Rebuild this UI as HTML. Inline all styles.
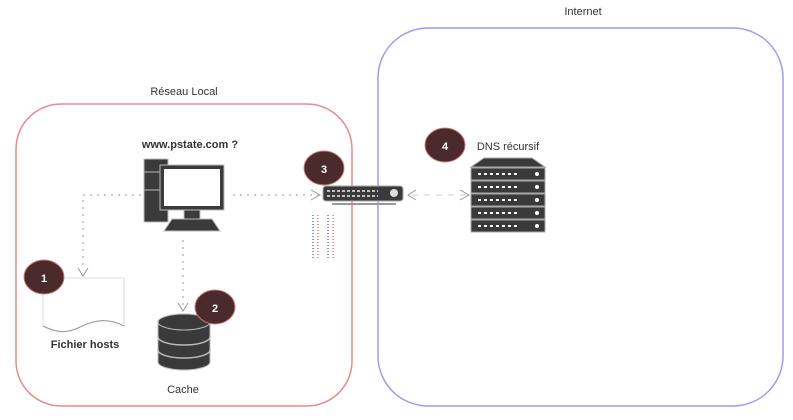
<!DOCTYPE html>
<html><head><meta charset="utf-8"><style>
body{margin:0;background:#fff;width:793px;height:415px;overflow:hidden}
text{font-family:"Liberation Sans",sans-serif;font-size:11px;fill:#333}
</style></head><body>
<svg width="793" height="415" xmlns="http://www.w3.org/2000/svg">
<rect x="378" y="28" width="405" height="378" rx="50" fill="none" stroke="#9c9cf0" stroke-width="1.5"/>
<rect x="16" y="104" width="336" height="302" rx="45" fill="none" stroke="#e88a8a" stroke-width="1.5"/>
<text x="583" y="15" text-anchor="middle">Internet</text>
<text x="184" y="95" text-anchor="middle">Réseau Local</text>
<text x="190" y="148" text-anchor="middle" font-weight="bold">www.pstate.com ?</text>
<text x="85" y="348" text-anchor="middle" font-weight="bold">Fichier hosts</text>
<text x="183" y="393" text-anchor="middle">Cache</text>
<text x="508" y="150" text-anchor="middle">DNS récursif</text>
<g stroke="#999" stroke-width="1" stroke-dasharray="2,5" fill="none">
<path d="M148 195 H83 V270"/>
<path d="M233 195 H318"/>
<path d="M183 240 V305"/>
<path d="M412 195 H468" stroke-dasharray="6,6" stroke="#ccc"/>
</g>
<g fill="none" stroke="#999">
<path d="M78 268 L83 276 L88 268"/>
<path d="M178 303 L183 311 L188 303"/>
<path d="M311 190 L320 195 L311 200"/>
<path d="M416 190 L408 195 L416 200"/>
<path d="M460 190 L469 195 L460 200"/>
</g>
<rect x="144" y="159" width="24" height="63" fill="#3a3a3a" stroke="#bbb"/>
<line x1="144" y1="172" x2="168" y2="172" stroke="#bbb"/>
<line x1="144" y1="190" x2="168" y2="190" stroke="#bbb"/>
<rect x="160" y="165" width="64" height="45" fill="#3a3a3a" stroke="#bbb"/>
<rect x="164" y="169" width="56" height="37" fill="#fff"/>
<rect x="184" y="210" width="16" height="9" fill="#3a3a3a" stroke="#bbb"/>
<path d="M172 219 H212 L220 231 H164 Z" fill="#3a3a3a" stroke="#bbb"/>
<path d="M43 278 H124 V326 C105 316 90 322 78 328 C65 334 55 332 43 326 Z" fill="#fff" stroke="#ddd"/>
<path d="M43 326 C55 332 65 334 78 328 C90 322 105 316 124 326" fill="none" stroke="#999"/>
<path d="M158 322 V362 A26 8 0 0 0 210 362 V322" fill="#3a3a3a" stroke="#bbb"/>
<ellipse cx="184" cy="322" rx="26" ry="8" fill="#3a3a3a" stroke="#bbb"/>
<path d="M158 337 A26 8 0 0 0 210 337 M158 350 A26 8 0 0 0 210 350" fill="none" stroke="#bbb" stroke-width="1.5"/>
<rect x="323" y="186" width="80" height="15" rx="3" fill="#3a3a3a" stroke="#aaa"/>
<line x1="332" y1="204" x2="396" y2="204" stroke="#999" stroke-width="2"/>
<g stroke="#eee" stroke-width="1.5" stroke-dasharray="3,2"><line x1="327" y1="191" x2="378" y2="191"/><line x1="327" y1="196" x2="378" y2="196"/></g>
<circle cx="394" cy="193" r="4" fill="#ddd"/>
<g stroke="#2233aa" stroke-width="1" stroke-dasharray="1,2"><line x1="313" y1="215" x2="313" y2="258"/><line x1="328" y1="215" x2="328" y2="258"/></g>
<g stroke="#c33" stroke-width="1" stroke-dasharray="1,2"><line x1="318" y1="215" x2="318" y2="258"/><line x1="333" y1="215" x2="333" y2="258"/></g>
<path d="M471 167 L484 158 H532 L545 167 Z" fill="#3a3a3a" stroke="#aaa"/>
<g fill="#3a3a3a" stroke="#aaa">
<rect x="471" y="168" width="74" height="12"/><rect x="471" y="181" width="74" height="12"/><rect x="471" y="194" width="74" height="12"/><rect x="471" y="207" width="74" height="12"/><rect x="471" y="220" width="74" height="12"/>
</g>
<g stroke="#fff" stroke-width="2" stroke-dasharray="3,3">
<line x1="478" y1="174" x2="520" y2="174"/><line x1="478" y1="187" x2="520" y2="187"/><line x1="478" y1="200" x2="520" y2="200"/><line x1="478" y1="213" x2="520" y2="213"/><line x1="478" y1="226" x2="520" y2="226"/>
</g>
<g fill="#fff"><circle cx="537" cy="174" r="2"/><circle cx="537" cy="187" r="2"/><circle cx="537" cy="200" r="2"/><circle cx="537" cy="213" r="2"/><circle cx="537" cy="226" r="2"/></g>
<g fill="#4a2a2a" stroke="#c77">
<ellipse cx="44" cy="277" rx="20" ry="17"/><ellipse cx="215" cy="307" rx="20" ry="17"/><ellipse cx="324" cy="168" rx="20" ry="17"/><ellipse cx="445" cy="145" rx="20" ry="17"/>
</g>
<g style="font-weight:bold;font-size:12px" text-anchor="middle">
<text x="44" y="282" style="fill:#fff">1</text><text x="215" y="312" style="fill:#fff">2</text><text x="324" y="173" style="fill:#fff">3</text><text x="445" y="150" style="fill:#fff">4</text>
</g>
</svg>
</body></html>
